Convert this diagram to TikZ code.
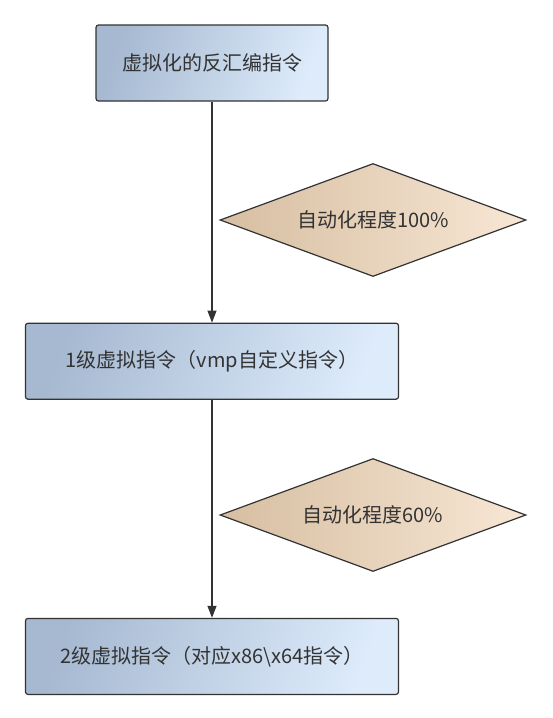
\documentclass[tikz,border=0pt]{standalone}
\usepackage{fontspec}
\newfontfamily\cjk{Noto Sans CJK SC}
\usetikzlibrary{arrows.meta,positioning,shapes.geometric}

\definecolor{boxdark}{HTML}{A6B9D1}
\definecolor{boxlight}{HTML}{DDEBFB}
\definecolor{ratedark}{HTML}{D6BEA1}
\definecolor{ratelight}{HTML}{F8E7D5}
\definecolor{ink}{HTML}{333333}

\tikzset{
  stepbox/.style={draw=ink, line width=1.2pt, rounded corners=2.5pt,
    minimum height=76pt, inner sep=0pt,
    left color=boxdark, right color=boxlight, shading angle=70,
    font=\cjk\fontsize{20}{24}\selectfont, text=ink},
  rate/.style={diamond, draw=ink, line width=1.2pt, inner sep=0pt, aspect=2.71,
    minimum width=306pt, minimum height=113pt,
    left color=ratedark, right color=ratelight,
    font=\cjk\fontsize{20}{24}\selectfont, text=ink},
  flow/.style={draw=ink, line width=1.2pt, -{Triangle[length=12pt,width=9pt]}}
}

\begin{document}
\begin{tikzpicture}[x=1pt, y=-1pt, node distance=218pt]
  \useasboundingbox[fill=white] (0,0) rectangle (553,718);

  \node[stepbox, minimum width=232pt] (asm) at (212,63) {虚拟化的反汇编指令};
  \node[stepbox, minimum width=373pt, below=221pt of asm] (vmp) {1级虚拟指令（vmp自定义指令）};
  \node[stepbox, minimum width=373pt, below=218pt of vmp] (native) {2级虚拟指令（对应x86\textbackslash x64指令）};

  \node[rate] (auto1) at (373,220) {自动化程度100\%};
  \node[rate] (auto2) at (373,515) {自动化程度60\%};

  \draw[flow] (asm) -- (vmp);
  \draw[flow] (vmp) -- (native);
\end{tikzpicture}
\end{document}
